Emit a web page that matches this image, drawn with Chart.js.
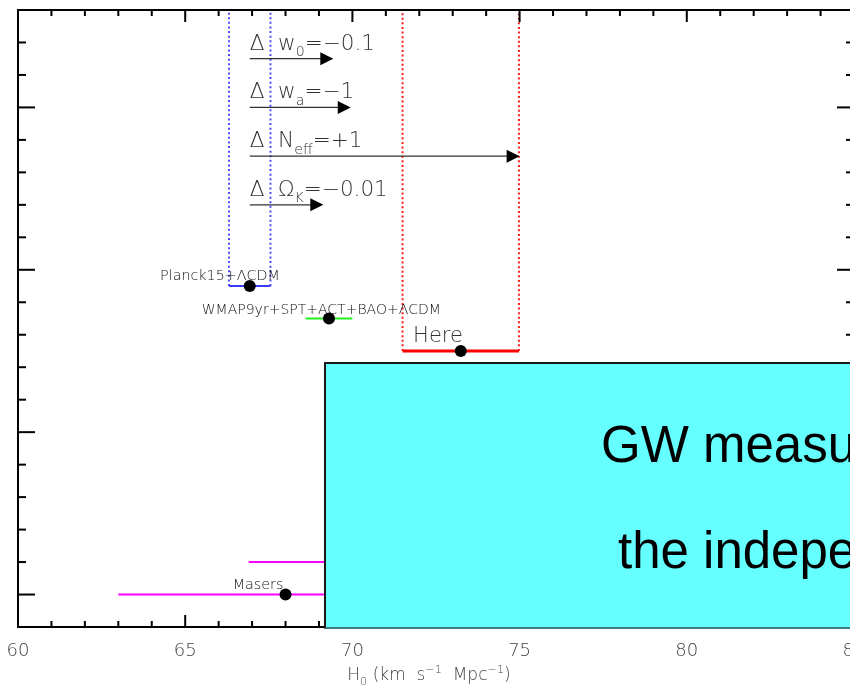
<!DOCTYPE html>
<html>
<head>
<meta charset="utf-8">
<script src="https://cdn.jsdelivr.net/npm/chart.js@4.4.1/dist/chart.umd.min.js"></script>
<style>
  html, body { margin: 0; padding: 0; overflow: hidden; background: #fff; width: 850px; height: 686px; }
  #wrap { position: absolute; left: 0; top: 0; width: 870px; height: 686px; }
  #gw {
    position: absolute; left: 324px; top: 362px; width: 560px; height: 267px;
    box-sizing: border-box; background: #66ffff;
    border-left: 2px solid #1a1a1a; border-top: 2px solid #1a1a1a; border-bottom: 2px solid #3f7f7f;
    font-family: "Liberation Sans", Arial, sans-serif; font-size: 51px; color: #000;
  }
  #gw span { position: absolute; white-space: nowrap; line-height: 1; }
</style>
</head>
<body>
<div id="wrap"><canvas id="c"></canvas></div>
<div id="gw">
  <span style="left:275px;top:55px">GW measurements</span>
  <span style="left:292px;top:161px">the independent</span>
</div>
<script>
// H0 measurements (km/s/Mpc): central value, 1-sigma interval, row on the chart
const xTickValues = [60, 65, 70, 75, 80, 85];
const probeNames = ['Planck15+ΛCDM', 'WMAP9yr+SPT+ACT+BAO+ΛCDM', 'Here', 'Masers', ''];
const probeH0    = [66.93, 69.3, 73.24, 68.0, 71.0];
const probeLow   = [66.31, 68.6, 71.50, 63.0, 66.9];
const probeHigh  = [67.55, 70.0, 74.98, 73.0, 75.1];
const probeRow   = [9.5, 8.5, 7.5, 0, 1];

// Shift of the Planck value when one extra parameter is changed
const shiftSymbol = ['w', 'w', 'N', 'Ω'];
const shiftSub    = ['0', 'a', 'eff', 'K'];
const shiftValue  = ['=−0.1', '=−1', '=+1', '=−0.01'];
const shiftFrom   = 66.93;
const shiftTo     = [69.43, 69.95, 75.0, 69.13];
const shiftRow    = [16.5, 15, 13.5, 12];

// styling
const probeColors = ['#3a3aff', '#22ee22', '#ff0000', '#ff00ff', '#ff00ff'];
const probeWidths = [2, 2, 3, 2, 2];
const LABEL_FONT = '"DejaVu Sans", "Liberation Sans", sans-serif';
const LABEL_WEIGHT = '200';

const datasets = [];

// central values
datasets.push({
  data: probeH0.map((v, i) => ({ x: v, y: probeRow[i] })),
  showLine: false, pointRadius: 6, pointHoverRadius: 6,
  pointBackgroundColor: '#000', pointBorderWidth: 0, order: 0, clip: false
});

// error bars
probeH0.forEach((v, i) => {
  datasets.push({
    data: [{ x: probeLow[i], y: probeRow[i] }, { x: probeHigh[i], y: probeRow[i] }],
    showLine: true, borderColor: probeColors[i], borderWidth: probeWidths[i],
    pointRadius: 0, order: 1, clip: false
  });
});

// dotted guides rising from the Planck and local intervals
const yTop = 18;
[[0, '#4d4dff'], [2, '#ff1a1a']].forEach(([i, col]) => {
  [probeLow[i], probeHigh[i]].forEach(edge => {
    datasets.push({
      data: [{ x: edge, y: probeRow[i] }, { x: edge, y: yTop }],
      showLine: true, borderColor: col, borderWidth: 2, borderDash: [2, 2.6],
      pointRadius: 0, order: 2, clip: false
    });
  });
});

// text with sub/superscripts
function richWidth(ctx, parts, size) {
  let w = 0;
  parts.forEach(p => {
    const s = p.m === 'n' ? size : size * 0.66;
    ctx.font = `${LABEL_WEIGHT} ${s}px ${LABEL_FONT}`;
    w += ctx.measureText(p.t).width;
  });
  return w;
}
function drawRich(ctx, parts, x, y, size, align) {
  let cx = align === 'center' ? x - richWidth(ctx, parts, size) / 2 : x;
  ctx.textAlign = 'left';
  ctx.textBaseline = 'alphabetic';
  parts.forEach(p => {
    const s = p.m === 'n' ? size : size * 0.66;
    const dy = p.m === 'sub' ? size * 0.3 : p.m === 'sup' ? -size * 0.42 : 0;
    ctx.font = `${LABEL_WEIGHT} ${s}px ${LABEL_FONT}`;
    ctx.fillText(p.t, cx, y + dy);
    cx += ctx.measureText(p.t).width;
  });
}

const framePlugin = {
  id: 'frame',
  afterDatasetsDraw(chart, args, opts) {
    const { ctx, chartArea: a, scales: { x, y } } = chart;
    ctx.save();
    ctx.strokeStyle = '#000';
    ctx.lineWidth = 2;
    ctx.lineCap = 'butt';
    const seg = (x1, y1, x2, y2) => { ctx.beginPath(); ctx.moveTo(x1, y1); ctx.lineTo(x2, y2); ctx.stroke(); };

    // minor/major ticks on all four sides, pointing inward
    for (let v = x.min; v <= x.max; v++) {
      const px = x.getPixelForValue(v);
      const L = v % 5 === 0 ? 12 : 6;
      seg(px, a.bottom, px, a.bottom - L);
      seg(px, a.top, px, a.top + L);
    }
    for (let v = y.min; v <= y.max; v++) {
      const py = y.getPixelForValue(v);
      const L = v % 5 === 0 ? 17 : 8;
      seg(a.left, py, a.left + L, py);
      seg(a.right, py, a.right - L, py);
    }
    ctx.strokeRect(a.left, a.top, a.right - a.left, a.bottom - a.top);

    // x tick labels
    ctx.fillStyle = '#444';
    ctx.font = `${LABEL_WEIGHT} 18px ${LABEL_FONT}`;
    ctx.textAlign = 'center';
    ctx.textBaseline = 'alphabetic';
    xTickValues.forEach(v => ctx.fillText(String(v), x.getPixelForValue(v), a.bottom + 29));

    // axis title
    drawRich(ctx, [
      { t: 'H', m: 'n' }, { t: '0', m: 'sub' }, { t: ' (km  s', m: 'n' }, { t: '−1', m: 'sup' },
      { t: '  Mpc', m: 'n' }, { t: '−1', m: 'sup' }, { t: ')', m: 'n' }
    ], (a.left + a.right) / 2 - 7, a.bottom + 53, 17, 'center');

    // probe labels
    probeNames.forEach((name, i) => {
      if (!name) return;
      const lab = opts.labels[i];
      ctx.fillStyle = lab.color;
      ctx.font = `${LABEL_WEIGHT} ${lab.size}px ${LABEL_FONT}`;
      ctx.textAlign = 'center';
      ctx.fillText(name, x.getPixelForValue(lab.at), y.getPixelForValue(probeRow[i]) - lab.lift);
    });

    // parameter-shift arrows
    const x0 = x.getPixelForValue(shiftFrom);
    shiftTo.forEach((t, i) => {
      const py = y.getPixelForValue(shiftRow[i]);
      const tip = x.getPixelForValue(t);
      ctx.strokeStyle = '#333';
      ctx.lineWidth = 1.3;
      seg(x0, py, tip - 10, py);
      ctx.fillStyle = '#000';
      ctx.beginPath();
      ctx.moveTo(tip, py);
      ctx.lineTo(tip - 13, py - 6.5);
      ctx.lineTo(tip - 13, py + 6.5);
      ctx.closePath();
      ctx.fill();
      ctx.fillStyle = '#333';
      drawRich(ctx, [
        { t: 'Δ  ', m: 'n' }, { t: shiftSymbol[i], m: 'n' }, { t: shiftSub[i], m: 'sub' }, { t: shiftValue[i], m: 'n' }
      ], x0, py - 9, 21.5, 'left');
    });
    ctx.restore();
  }
};

new Chart(document.getElementById('c'), {
  type: 'scatter',
  data: { datasets },
  options: {
    responsive: true,
    maintainAspectRatio: false,
    animation: false,
    events: [],
    layout: { padding: { left: 18, top: 10, right: 16, bottom: 59 } },
    scales: {
      x: { type: 'linear', min: 60, max: 85, display: false },
      y: { type: 'linear', min: -1, max: 18, display: false }
    },
    plugins: {
      legend: { display: false },
      tooltip: { enabled: false },
      frame: {
        labels: [
          { at: 66.04, lift: 6, size: 14.3, color: '#111' },
          { at: 69.07, lift: 5, size: 14, color: '#111' },
          { at: 72.56, lift: 9, size: 21, color: '#333' },
          { at: 67.18, lift: 6, size: 14.3, color: '#111' },
          null
        ]
      }
    }
  },
  plugins: [framePlugin]
});
</script>
</body>
</html>
